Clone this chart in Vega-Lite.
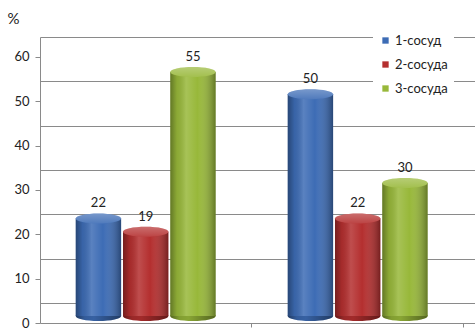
{
  "$schema": "https://vega.github.io/schema/vega-lite/v6.json",
  "autosize": "none",
  "width": 435,
  "height": 286,
  "padding": {"top": 37, "left": 40, "right": 0, "bottom": 8},
  "background": "white",
  "config": {"view": {"stroke": null}, "font": "Lato"},
  "data": {"values": [
    {"group": "A", "series": "1-сосуд", "value": 22},
    {"group": "A", "series": "2-сосуда", "value": 19},
    {"group": "A", "series": "3-сосуда", "value": 55},
    {"group": "B", "series": "1-сосуд", "value": 50},
    {"group": "B", "series": "2-сосуда", "value": 22},
    {"group": "B", "series": "3-сосуда", "value": 30}
  ]},
  "encoding": {
    "x": {"field": "group", "type": "nominal",
      "scale": {"paddingInner": 0.34, "paddingOuter": 0.196, "align": 0.43},
      "axis": {"labels": false, "title": null, "domain": true, "domainColor": "#8a8a8a", "ticks": true, "tickColor": "#8a8a8a", "tickSize": 4, "bandPosition": 1.257, "grid": false}},
    "xOffset": {"field": "series", "type": "nominal", "scale": {"paddingInner": 0.04, "paddingOuter": 0}}
  },
  "layer": [
    {
      "mark": {"type": "point", "opacity": 0},
      "encoding": {
        "y": {"field": "value", "type": "quantitative",
          "scale": {"domain": [-4.5, 60], "nice": false, "zero": false},
          "axis": {"orient": "right", "values": [0, 10, 20, 30, 40, 50, 60], "grid": true, "gridColor": "#8a8a8a", "gridWidth": 1, "labels": false, "ticks": false, "domain": false, "title": null}}
      }
    },
    {
      "encoding": {
        "y": {"field": "value", "type": "quantitative",
          "scale": {"domain": [-1.58, 62.92], "nice": false, "zero": false},
          "axis": null},
        "color": {"field": "series", "type": "nominal",
          "scale": {"domain": ["1-сосуд", "2-сосуда", "3-сосуда"], "range": ["#3d6cb5", "#b42f2f", "#98b83a"]},
          "legend": {"orient": "none", "legendX": 333, "legendY": -9, "fillColor": "white", "padding": 6, "title": null, "symbolType": "square", "symbolSize": 40, "symbolStrokeWidth": 0, "labelFont": "Lato", "labelFontSize": 13, "labelColor": "#222", "rowPadding": 10, "labelOffset": 3}}
      },
      "layer": [
        {
          "mark": {"type": "point", "filled": true, "opacity": 1, "size": 2061, "shape": "M-1,0A1,0.22,0,1,0,1,0A1,0.22,0,1,0,-1,0Z"},
          "encoding": {"y": {"datum": 0}}
        },
        {
          "mark": {"type": "point", "filled": true, "opacity": 1, "size": 2061, "shape": "M-1,0A1,0.22,0,1,0,1,0A1,0.22,0,1,0,-1,0Z",
            "fill": {"gradient": "linear", "x1": 0, "x2": 1, "y1": 0, "y2": 0, "stops": [
              {"offset": 0, "color": "rgba(0,0,0,0.45)"},
              {"offset": 0.2, "color": "rgba(0,0,0,0.15)"},
              {"offset": 0.4, "color": "rgba(0,0,0,0.1)"},
              {"offset": 1, "color": "rgba(0,0,0,0.45)"}]}},
          "encoding": {"y": {"datum": 0}, "color": {"value": null}}
        },
        {"mark": {"type": "bar"}},
        {
          "mark": {"type": "bar",
            "fill": {"gradient": "linear", "x1": 0, "x2": 1, "y1": 0, "y2": 0, "stops": [
              {"offset": 0, "color": "rgba(0,0,0,0.35)"},
              {"offset": 0.15, "color": "rgba(0,0,0,0.08)"},
              {"offset": 0.35, "color": "rgba(255,255,255,0.15)"},
              {"offset": 0.6, "color": "rgba(255,255,255,0)"},
              {"offset": 1, "color": "rgba(0,0,0,0.35)"}]}},
          "encoding": {"color": {"value": null}}
        },
        {
          "mark": {"type": "point", "filled": true, "opacity": 1, "size": 2061, "shape": "M-1,0A1,0.22,0,1,0,1,0A1,0.22,0,1,0,-1,0Z"}
        },
        {
          "mark": {"type": "point", "filled": true, "opacity": 1, "size": 2061, "shape": "M-1,0A1,0.22,0,1,0,1,0A1,0.22,0,1,0,-1,0Z",
            "fill": {"gradient": "linear", "x1": 0, "x2": 0, "y1": 0, "y2": 1, "stops": [
              {"offset": 0, "color": "rgba(255,255,255,0.3)"},
              {"offset": 1, "color": "rgba(255,255,255,0.1)"}]}},
          "encoding": {"color": {"value": null}}
        }
      ]
    },
    {
      "mark": {"type": "text", "baseline": "bottom", "dy": -15, "font": "Lato", "fontSize": 13, "color": "#222"},
      "encoding": {
        "y": {"field": "value", "type": "quantitative",
          "scale": {"domain": [0, 64.5], "nice": false, "zero": false},
          "axis": {"orient": "left", "values": [0, 10, 20, 30, 40, 50, 60], "grid": false, "domainColor": "#8a8a8a", "tickColor": "#8a8a8a", "tickSize": 5, "labelFont": "Lato", "labelFontSize": 13, "labelColor": "#222", "labelPadding": 6,
            "title": "%", "titleAngle": 0, "titleX": -27, "titleY": -19, "titleAlign": "center", "titleBaseline": "middle", "titleFont": "Lato", "titleFontWeight": "normal", "titleFontSize": 15, "titleColor": "#222"}},
        "text": {"field": "value", "type": "quantitative"}
      }
    }
  ],
  "resolve": {"scale": {"y": "independent"}}
}
